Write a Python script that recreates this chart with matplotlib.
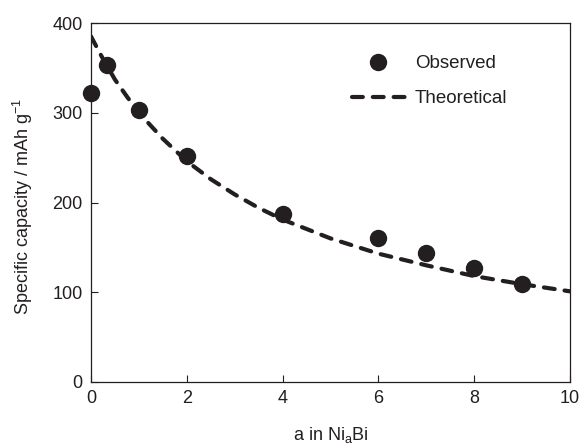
import numpy as np
import matplotlib.pyplot as plt

plt.rcParams['font.family'] = ['Liberation Sans', 'DejaVu Sans']
plt.rcParams['mathtext.fontset'] = 'custom'
plt.rcParams['mathtext.rm'] = 'Liberation Sans'
plt.rcParams['mathtext.it'] = 'Liberation Sans'

ink = '#231f20'

# observed capacity vs a in Ni_aBi
obs_a = [0, 0.33, 1, 2, 4, 6, 7, 8, 9]
obs_cap = [322, 353, 303, 252, 187, 161, 144, 127, 109]

# theoretical curve
theo_a = [0, 0.25, 0.5, 0.75, 1, 1.5, 2, 2.5, 3, 3.5, 4, 5, 6, 7, 8, 9, 10]
theo_cap = [385, 360, 337, 318, 300, 271, 246, 226, 209, 194, 181, 160, 143, 130, 118, 109, 101]

fig = plt.figure(figsize=(5.83, 4.45), dpi=100)
ax = fig.add_axes([91/583, 1-382/445, 479/583, 359/445])

ax.plot(theo_a, theo_cap, color=ink, lw=3, ls=(0, (2.6, 2.4)),
        dash_capstyle='round', label='Theoretical', zorder=2)
ax.plot(obs_a, obs_cap, 'o', color=ink, ms=11.5, ls='none',
        label='Observed', zorder=3, clip_on=False)

ax.set_xlim(0, 10)
ax.set_ylim(0, 400)
ax.set_xticks([0, 2, 4, 6, 8, 10])
ax.set_yticks([0, 100, 200, 300, 400])
ax.tick_params(direction='in', length=5, width=0.8, colors=ink,
               labelsize=13, labelcolor=ink, pad=6)
for s in ax.spines.values():
    s.set_color(ink)
    s.set_linewidth(0.9)

ax.set_xlabel(r'a in Ni$_\mathregular{a}$Bi', fontsize=13, color=ink)
ax.set_ylabel(r'Specific capacity / mAh g$^{\mathregular{-1}}$', fontsize=13, color=ink)
ax.xaxis.set_label_coords(0.5, -0.12)
ax.yaxis.set_label_coords(-0.117, 0.49)

h, l = ax.get_legend_handles_labels()
ax.legend(h[::-1], l[::-1], loc='upper left', bbox_to_anchor=(0.545, 0.91),
          frameon=False, fontsize=13.5, handlelength=2.8, handletextpad=0.55,
          labelspacing=0.95, borderpad=0, borderaxespad=0, labelcolor=ink)

fig.savefig('out.png', dpi=100)
